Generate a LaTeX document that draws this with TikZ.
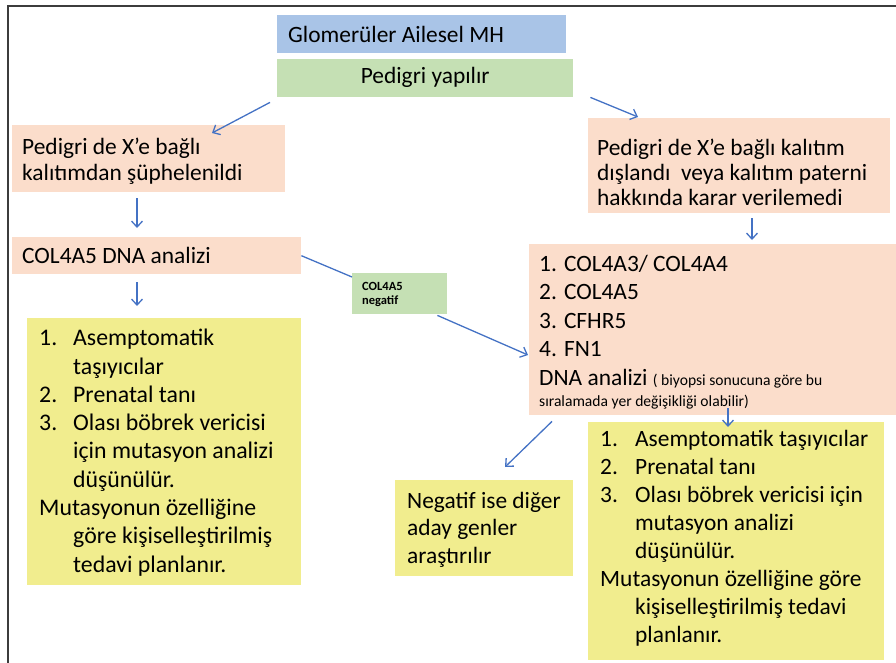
\documentclass[tikz,border=0pt]{standalone}
\usepackage{fontspec}
\setmainfont{Carlito}
\usetikzlibrary{arrows.meta}

\definecolor{kmavi}{RGB}{169,196,231}
\definecolor{kyesil}{RGB}{197,224,180}
\definecolor{ksomon}{RGB}{251,221,203}
\definecolor{ksari}{RGB}{241,237,142}
\definecolor{okmavi}{RGB}{68,114,196}
\definecolor{cerceve}{RGB}{60,60,60}

\newcommand{\yazi}[2]{\fontsize{#1}{#2}\selectfont}
\newlength{\girinti}
\newcommand{\no}[1]{\makebox[\girinti][l]{#1}}
\newcommand{\ic}{\hspace*{\girinti}}

\tikzset{kutu/.style={anchor=north west, inner ysep=0pt, align=flush left, text=black}}
\tikzset{ok/.style={draw=okmavi, line width=1.3pt, -{Straight Barb[length=6pt,width=11pt]}}}
\tikzset{okcizgi/.style={draw=okmavi, line width=1.3pt}}

\begin{document}
\begin{tikzpicture}[x=1pt,y=-1pt]
  \useasboundingbox (0,0) rectangle (896,663);
  \draw[line width=2pt, cerceve] (8,663) -- (8,6) -- (896,6);

  \node[kutu, fill=kmavi, inner xsep=11pt, text width=267pt, text height=27pt, text depth=11pt,
    font=\yazi{23.4}{26}] (baslik) at (277,15) {Glomerüler Ailesel MH};
  \node[kutu, fill=kyesil, inner xsep=0pt, text width=296pt, align=flush center, text height=24.5pt, text depth=13.5pt,
    font=\yazi{23.4}{26}] (pedigri) at (277,59) {Pedigri yapılır};

  % sol kol
  \node[kutu, fill=ksomon, inner xsep=10pt, text width=253pt, text height=29pt, text depth=38pt,
    font=\yazi{23.4}{26.5}] (xbagli) at (12,125) {Pedigri de X’e bağlı\\kalıtımdan şüphelenildi};
  \node[kutu, fill=ksomon, inner xsep=10pt, text width=269pt, text height=26pt, text depth=11pt,
    font=\yazi{23.4}{26}] (col4a5) at (12,237) {COL4A5 DNA analizi};
  \node[kutu, fill=ksari, inner xsep=12pt, text width=250pt, text height=27.5pt, text depth=239.5pt,
    font=\yazi{23.8}{28.3}] (solsari) at (27,318) {\setlength{\girinti}{34pt}%
    \no{1.}Asemptomatik\\
    \ic taşıyıcılar\\
    \no{2.}Prenatal tanı\\
    \no{3.}Olası böbrek vericisi\\
    \ic için mutasyon analizi\\
    \ic düşünülür.\\
    Mutasyonun özelliğine\\
    \ic göre kişiselleştirilmiş\\
    \ic tedavi planlanır.};

  % sag kol
  \node[kutu, fill=ksomon, inner xsep=9pt, text width=284pt, text height=37pt, text depth=58pt,
    font=\yazi{23.4}{25}] (sagust) at (588,118)
    {Pedigri de X’e bağlı kalıtım\\dışlandı\ \ veya kalıtım paterni\\hakkında karar verilemedi};
  \node[kutu, fill=ksomon, inner xsep=10pt, text width=347pt, text height=27pt, text depth=144pt,
    font=\yazi{23.4}{28.5}] (sagdna) at (529,244)
    {1. COL4A3/ COL4A4\\2. COL4A5\\3. CFHR5\\4. FN1\\
     DNA analizi {\yazi{15.6}{20}( biyopsi sonucuna göre bu}\\[-7.5pt]
     {\yazi{15.6}{20}sıralamada yer değişikliği olabilir)}};
  \node[kutu, fill=kyesil, inner xsep=10pt, text width=75pt, text height=17.5pt, text depth=23.5pt,
    font=\bfseries\yazi{12.5}{14}] (etiket) at (352,273) {COL4A5\\negatif};
  \node[kutu, fill=ksari, inner xsep=12pt, text width=154pt, text height=28pt, text depth=68pt,
    font=\yazi{23.4}{27.5}] (negbox) at (395,480) {Negatif ise diğer\\aday genler\\araştırılır};
  \node[kutu, fill=ksari, inner xsep=12pt, text width=272pt, text height=24pt, text depth=214pt,
    font=\yazi{23.4}{28.1}] (sagsari) at (588,422) {\setlength{\girinti}{35pt}%
    \no{1.}Asemptomatik taşıyıcılar\\
    \no{2.}Prenatal tanı\\
    \no{3.}Olası böbrek vericisi için\\
    \ic mutasyon analizi\\
    \ic düşünülür.\\
    Mutasyonun özelliğine göre\\
    \ic kişiselleştirilmiş tedavi\\
    \ic planlanır.};

  % oklar
  \draw[ok] ([shift={(-7,5)}]pedigri.south west) -- ([shift={(200,8)}]xbagli.north west);
  \draw[ok] ([shift={(17,0)}]pedigri.south east) -- ([shift={(50,-1)}]sagust.north west);
  \draw[ok] ([shift={(125,6)}]xbagli.south west) -- ([shift={(125,-9)}]col4a5.north west);
  \draw[ok] ([shift={(125,8)}]col4a5.south west) -- ([shift={(110,-12)}]solsari.north west);
  \draw[okcizgi] (col4a5.east) -- ([shift={(0,4)}]etiket.north west);
  \draw[ok] ([shift={(-10,1)}]etiket.south east) -- ([shift={(-1,111)}]sagdna.north west);
  \draw[ok] ([shift={(164,5)}]sagust.south west) -- ([shift={(223,-4)}]sagdna.north west);
  \draw[ok] ([shift={(23,6)}]sagdna.south west) -- ([shift={(110,-13)}]negbox.north west);
  \draw[ok] ([shift={(199,-7)}]sagdna.south west) -- ([shift={(140,5)}]sagsari.north west);
\end{tikzpicture}
\end{document}
